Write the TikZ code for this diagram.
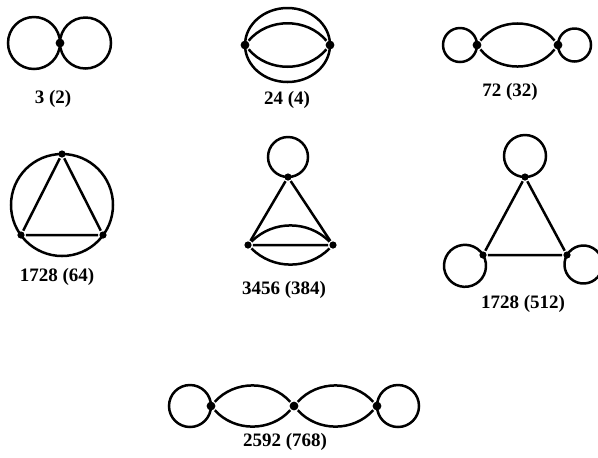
\documentclass[tikz,border=0pt]{standalone}
\usepackage{fontspec}
\setmainfont{Liberation Serif}
\usetikzlibrary{positioning}

\begin{document}
\begin{tikzpicture}[x=0.5pt, y=-0.5pt, line width=1.25pt,
  dot/.style={circle, fill, inner sep=0pt, minimum size=3.6pt},
  bigdot/.style={dot, minimum size=4.4pt},
  lbl/.style={font=\fontsize{9.5}{11}\selectfont\bfseries}]
\useasboundingbox (0,0) rectangle (598,457);
% 3 (2)
\node[bigdot] (a1) at (60,43) {};
\draw (a1.center) arc[start angle=0, delta angle=360, radius=26];
\draw (a1.center) arc[start angle=180, delta angle=360, radius=25.5];
\node[lbl] (la) at (53,99) {3 (2)};
% 24 (4)
\node[bigdot] (b1) at (245,45) {};
\node[bigdot] (b2) at (330,45) {};
\draw (b1.center) arc[start angle=180, delta angle=360, x radius=42.5, y radius=37];
\draw (b1) to[bend left=50] (b2);
\draw (b1) to[bend right=50] (b2);
\node[lbl] (lb) at (287,100) {24 (4)};
% 72 (32)
\node[bigdot] (c1) at (477,45) {};
\node[bigdot] (c2) at (558,45) {};
\draw (c1.center) arc[start angle=0, delta angle=360, radius=17];
\draw (c2.center) arc[start angle=180, delta angle=360, radius=16.5];
\draw (c1) to[bend left=52] (c2);
\draw (c1) to[bend right=52] (c2);
\node[lbl] (lc) at (510,92) {72 (32)};
% 1728 (64)
\coordinate (dc) at (62,205);
\node[dot] (d1) at (62,154) {};
\node[dot] (d2) at (21,235) {};
\node[dot] (d3) at (103,235) {};
\draw (dc) circle[radius=51];
\draw (d1) -- (d2) -- (d3) -- (d1);
\node[lbl] (ld) at (57,277) {1728 (64)};
% 3456 (384)
\node[dot] (e1) at (288,177) {};
\node[dot] (e2) at (248,245) {};
\node[dot] (e3) at (333,245) {};
\draw (e1.center) arc[start angle=90, delta angle=360, radius=20];
\draw (e1) -- (e2) -- (e3) -- (e1);
\draw (e2) to[bend left=45] (e3);
\draw (e2) to[bend right=45] (e3);
\node[lbl] (le) at (284,290) {3456 (384)};
% 1728 (512)
\node[dot] (f1) at (525,177) {};
\node[dot] (f2) at (483,255) {};
\node[dot] (f3) at (567,255) {};
\draw (f1.center) arc[start angle=90, delta angle=360, radius=21];
\draw (f2.center) arc[start angle=-31, delta angle=360, radius=21];
\draw (f3.center) arc[start angle=-150, delta angle=360, radius=19];
\draw (f1) -- (f2) -- (f3) -- (f1);
\node[lbl] (lf) at (523,304) {1728 (512)};
% 2592 (768)
\node[bigdot] (g1) at (211,406) {};
\node[bigdot] (g2) at (294,406) {};
\node[bigdot] (g3) at (377,406) {};
\draw (g1.center) arc[start angle=0, delta angle=360, radius=21];
\draw (g3.center) arc[start angle=180, delta angle=360, radius=21];
\foreach \s/\t in {g1/g2, g2/g3}{
  \draw (\s) to[bend left=48] (\t);
  \draw (\s) to[bend right=48] (\t);
}
\node[lbl] (lg) at (285,442) {2592 (768)};
\end{tikzpicture}
\end{document}
